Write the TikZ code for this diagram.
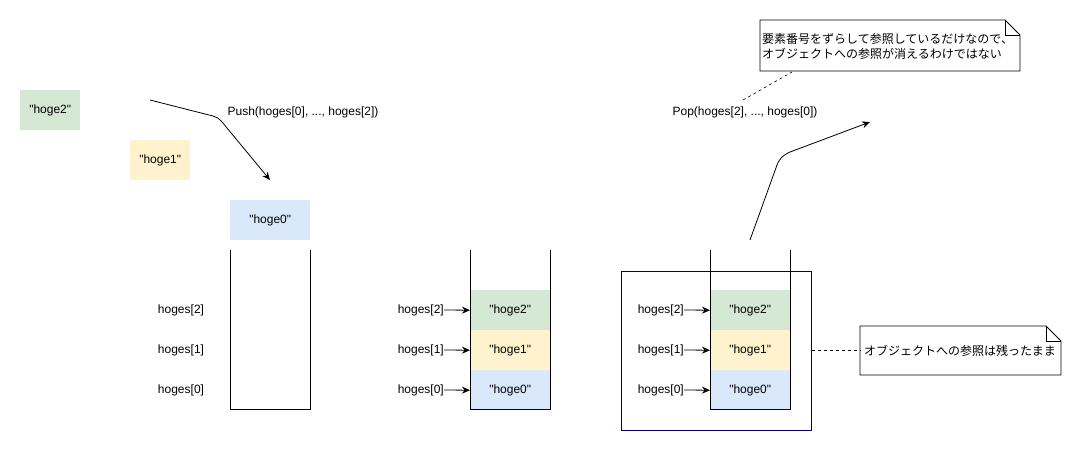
\documentclass[tikz,border=0pt]{standalone}
\usepackage{fontspec}
\setmainfont{Liberation Sans}[Ligatures=TeXOff]
\newfontfamily\cjk{Noto Sans CJK JP}
\usetikzlibrary{arrows.meta}
\definecolor{cgreen}{HTML}{D5E8D4}
\definecolor{cyellow}{HTML}{FFF2CC}
\definecolor{cblue}{HTML}{DAE8FC}
\definecolor{navy}{HTML}{000066}
\begin{document}
\begin{tikzpicture}[x=1pt,y=-1pt,font=\fontsize{12}{14}\selectfont,
  box/.style={minimum width=80pt,minimum height=40pt,inner sep=0pt,anchor=north west},
  sbox/.style={minimum width=60pt,minimum height=40pt,inner sep=0pt,anchor=north west},
  lbl/.style={inner sep=0pt},
  arr/.style={-{Stealth[length=8pt,width=7pt]},line width=0.8pt},
  wall/.style={line width=0.8pt},
  note/.style={line width=0.8pt,fill=white}]
\useasboundingbox (0,0) rectangle (1081,451);
% loose objects
\node[sbox,fill=cgreen] (g2) at (20,90) {"hoge2"};
\node[sbox,fill=cyellow] (g1) at (130,140) {"hoge1"};
\node[box,fill=cblue] (g0) at (230,200) {"hoge0"};
\coordinate (ps) at (150,100);
\coordinate (pe) at (270,180);
\draw[arr] (ps) -- (213,116) .. controls (220,118) and (222,122) .. (227,128) -- (pe);
\node[lbl] (push) at (303,112) {Push(hoges[0], ..., hoges[2])};
% stack 1
\draw[wall] (230,250) -- (230,409) -- (310,409) -- (310,250);
\node[lbl] (a2) at (181,310) {hoges[2]};
\node[lbl] (a1) at (181,350) {hoges[1]};
\node[lbl] (a0) at (181,390) {hoges[0]};
% stack 2
\node[box,fill=cgreen] (b2) at (470,290) {"hoge2"};
\node[box,fill=cyellow] (b1) at (470,330) {"hoge1"};
\node[box,fill=cblue] (b0) at (470,370) {"hoge0"};
\draw[wall] (470,250) -- (470,409) -- (550,409) -- (550,250);
\node[lbl,anchor=east] (c2) at (444,310) {hoges[2]};
\node[lbl,anchor=east] (c1) at (444,350) {hoges[1]};
\node[lbl,anchor=east] (c0) at (444,390) {hoges[0]};
\draw[arr] (c2.east) -- (b2.west);
\draw[arr] (c1.east) -- (b1.west);
\draw[arr] (c0.east) -- (b0.west);
% stack 3
\node[draw=navy,line width=0.8pt,minimum width=190pt,minimum height=159pt,inner sep=0pt,anchor=north west] (frame) at (621,271) {};
\node[box,fill=cgreen] (d2) at (710,290) {"hoge2"};
\node[box,fill=cyellow] (d1) at (710,330) {"hoge1"};
\node[box,fill=cblue] (d0) at (710,370) {"hoge0"};
\draw[wall] (710,250) -- (710,409) -- (790,409) -- (790,250);
\node[lbl,anchor=east] (e2) at (684,310) {hoges[2]};
\node[lbl,anchor=east] (e1) at (684,350) {hoges[1]};
\node[lbl,anchor=east] (e0) at (684,390) {hoges[0]};
\draw[arr] (e2.east) -- (d2.west);
\draw[arr] (e1.east) -- (d1.west);
\draw[arr] (e0.east) -- (d0.west);
\coordinate (qs) at (750,240);
\coordinate (qe) at (870,122);
\draw[arr] (qs) -- (777,165) .. controls (780,158) and (782,156) .. (790,152) -- (qe);
\node[lbl] (pop) at (745,112) {Pop(hoges[2], ..., hoges[0])};
% note 1
\draw[note] (760,20) -- (1005,20) -- (1020,35) -- (1020,71) -- (760,71) -- cycle;
\draw[line width=0.6pt] (1005,20) -- (1005,35) -- (1020,35);
\node[lbl,align=left,anchor=west,font=\cjk\fontsize{12}{15}\selectfont] (n1) at (762,46) {要素番号をずらして参照しているだけなので、\\オブジェクトへの参照が消えるわけではない};
\coordinate (n1b) at (792,72);
\draw[dashed,line width=0.6pt] (743,100) -- (n1b);
% note 2
\draw[note] (860,326) -- (1046,326) -- (1061,341) -- (1061,375) -- (860,375) -- cycle;
\draw[line width=0.6pt] (1046,326) -- (1046,341) -- (1061,341);
\node[lbl,anchor=west,font=\cjk\fontsize{12}{15}\selectfont] (n2) at (864,351) {オブジェクトへの参照は残ったまま};
\draw[dashed,line width=0.6pt] (frame.east |- 0,350) -- (860,350);
\end{tikzpicture}
\end{document}
